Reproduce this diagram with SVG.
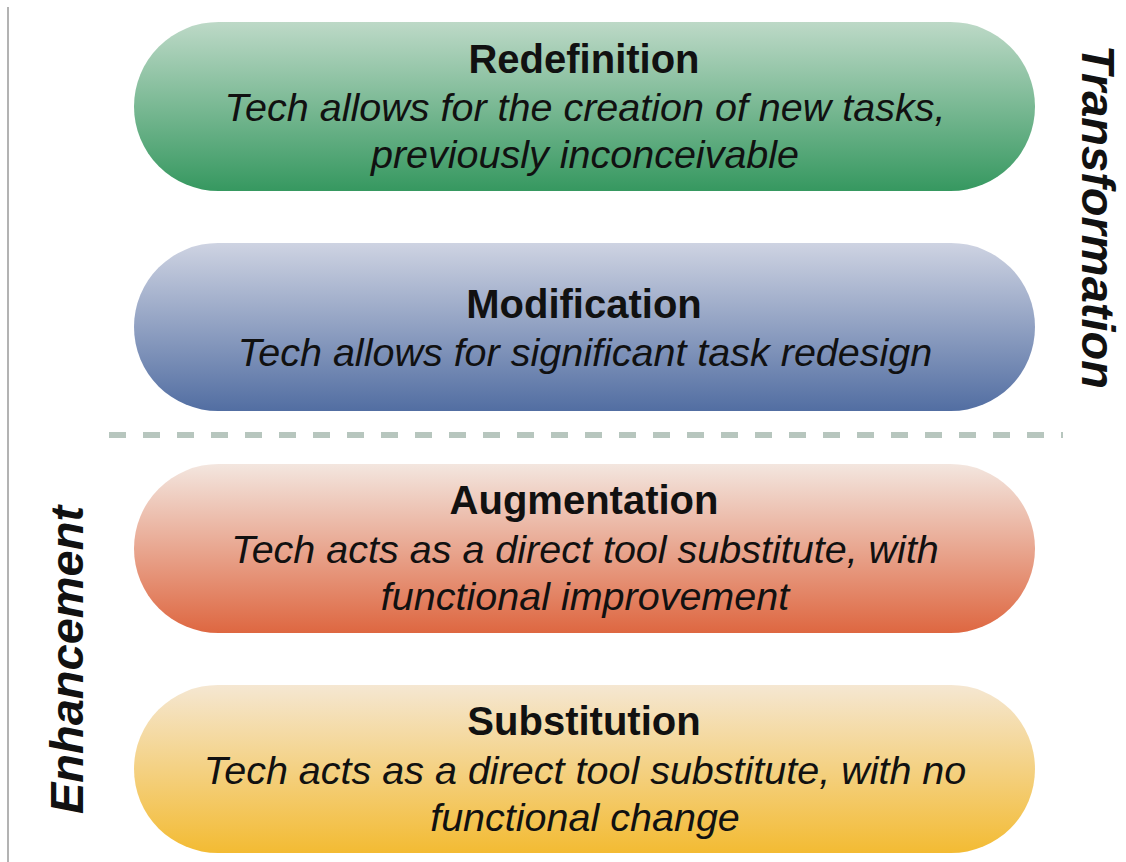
<svg xmlns="http://www.w3.org/2000/svg" width="1126" height="862" viewBox="0 0 1126 862">
<defs>
<linearGradient id="gGreen" x1="0" y1="0" x2="0" y2="1">
<stop offset="0" stop-color="#bdd9c7"/>
<stop offset="1" stop-color="#369860"/>
</linearGradient>
<linearGradient id="gBlue" x1="0" y1="0" x2="0" y2="1">
<stop offset="0" stop-color="#ced3e2"/>
<stop offset="1" stop-color="#526ea2"/>
</linearGradient>
<linearGradient id="gRed" x1="0" y1="0" x2="0" y2="1">
<stop offset="0" stop-color="#f3e6df"/>
<stop offset="1" stop-color="#de6741"/>
</linearGradient>
<linearGradient id="gYellow" x1="0" y1="0" x2="0" y2="1">
<stop offset="0" stop-color="#f5e7d2"/>
<stop offset="1" stop-color="#f3bb33"/>
</linearGradient>
</defs>
<style>
.title{font-family:"Liberation Sans",Arial,Helvetica,sans-serif;font-weight:bold;font-size:40px;fill:#111;text-anchor:middle}
.sub{font-family:"Liberation Sans",Arial,Helvetica,sans-serif;font-style:italic;font-size:39.5px;fill:#111;text-anchor:middle}
.side{font-family:"Liberation Sans",Arial,Helvetica,sans-serif;font-style:italic;font-weight:bold;font-size:47px;fill:#111;text-anchor:middle}
</style>
<rect width="1126" height="862" fill="#ffffff"/>
<g id="connectors">
<line x1="8" y1="7" x2="8" y2="862" stroke="#9a9a9a" stroke-width="1.5"/>
<line x1="105" y1="435" x2="1063" y2="435" stroke="#b7c6be" stroke-width="6" stroke-dasharray="17 17" stroke-dashoffset="30"/>
</g>
<g id="redefinition">
<rect x="134" y="22" width="901" height="169" rx="84.5" ry="84.5" fill="url(#gGreen)"/>
<text class="title" x="584" y="73">Redefinition</text>
<text class="sub" x="585" y="121">Tech allows for the creation of new tasks,</text>
<text class="sub" x="585" y="168">previously inconceivable</text>
</g>
<g id="modification">
<rect x="134" y="243" width="901" height="168" rx="84" ry="84" fill="url(#gBlue)"/>
<text class="title" x="584" y="318">Modification</text>
<text class="sub" x="585" y="366">Tech allows for significant task redesign</text>
</g>
<g id="augmentation">
<rect x="134" y="464" width="901" height="169" rx="84.5" ry="84.5" fill="url(#gRed)"/>
<text class="title" x="584" y="514">Augmentation</text>
<text class="sub" x="585" y="563">Tech acts as a direct tool substitute, with</text>
<text class="sub" x="585" y="610">functional improvement</text>
</g>
<g id="substitution">
<rect x="134" y="685" width="901" height="168" rx="84" ry="84" fill="url(#gYellow)"/>
<text class="title" x="584" y="735">Substitution</text>
<text class="sub" x="585" y="784">Tech acts as a direct tool substitute, with no</text>
<text class="sub" x="585" y="831">functional change</text>
</g>
<g id="transformation-label">
<text class="side" transform="translate(1082,217) rotate(90)">Transformation</text>
</g>
<g id="enhancement-label">
<text class="side" transform="translate(83,660) rotate(-90)">Enhancement</text>
</g>
</svg>
